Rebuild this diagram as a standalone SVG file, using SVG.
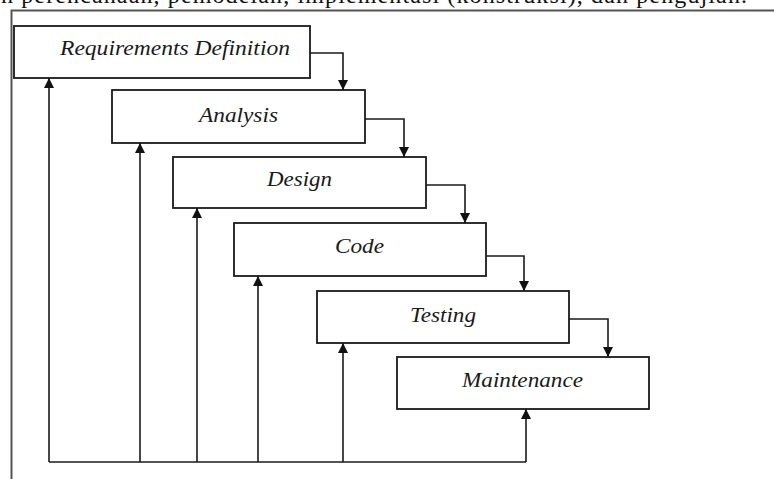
<svg xmlns="http://www.w3.org/2000/svg" width="774" height="479" viewBox="0 0 774 479">
<style>
.box{fill:#fff;stroke:#1a1a1a;stroke-width:1.8}
.lbl{font-family:"Liberation Serif","DejaVu Serif","Times New Roman",serif;font-style:italic;font-size:20px;fill:#1a1a1a}
.con{fill:none;stroke:#1a1a1a;stroke-width:1.6}
.frame{fill:none;stroke:#555;stroke-width:2}
.top{font-family:"Liberation Serif","Times New Roman",serif;font-size:24px;fill:#111}
</style>
<defs>
<marker id="ah" viewBox="0 0 10 10" refX="10" refY="5" markerWidth="12" markerHeight="10" markerUnits="userSpaceOnUse" orient="auto">
<path d="M0,0 L10,5 L0,10 z" fill="#111"/>
</marker>
</defs>
<rect width="774" height="479" fill="#fff"/>
<text class="top" x="1" y="2.5" textLength="746" lengthAdjust="spacing">n perencanaan, pemodelan, implementasi (konstruksi), dan pengujian.</text>
<path class="frame" d="M11.5,479 V10.5 H774"/>
<g id="requirements">
<rect class="box" x="14" y="26" width="296" height="52"/>
<text class="lbl" x="60" y="55" textLength="230" lengthAdjust="spacingAndGlyphs">Requirements Definition</text>
</g>
<g id="analysis">
<rect class="box" x="112" y="90" width="253" height="53"/>
<text class="lbl" x="199" y="122" textLength="79" lengthAdjust="spacingAndGlyphs">Analysis</text>
</g>
<g id="design">
<rect class="box" x="173" y="157" width="253" height="51"/>
<text class="lbl" x="267" y="186" textLength="65" lengthAdjust="spacingAndGlyphs">Design</text>
</g>
<g id="code">
<rect class="box" x="234" y="223" width="252" height="53"/>
<text class="lbl" x="335" y="253" textLength="49" lengthAdjust="spacingAndGlyphs">Code</text>
</g>
<g id="testing">
<rect class="box" x="317" y="291" width="252" height="52"/>
<text class="lbl" x="410" y="322" textLength="66" lengthAdjust="spacingAndGlyphs">Testing</text>
</g>
<g id="maintenance">
<rect class="box" x="397" y="357" width="252" height="52"/>
<text class="lbl" x="462" y="387" textLength="121" lengthAdjust="spacingAndGlyphs">Maintenance</text>
</g>
<g id="connectors">
<path class="con" d="M310,53 H343 V90" marker-end="url(#ah)"/>
<path class="con" d="M365,119 H404 V157" marker-end="url(#ah)"/>
<path class="con" d="M426,185 H465 V223" marker-end="url(#ah)"/>
<path class="con" d="M486,256 H524 V291" marker-end="url(#ah)"/>
<path class="con" d="M569,319 H608 V357" marker-end="url(#ah)"/>
<path class="con" d="M49,462 H526"/>
<path class="con" d="M49,462 V78" marker-end="url(#ah)"/>
<path class="con" d="M140,462 V143" marker-end="url(#ah)"/>
<path class="con" d="M197,462 V208" marker-end="url(#ah)"/>
<path class="con" d="M258,462 V276" marker-end="url(#ah)"/>
<path class="con" d="M343,462 V343" marker-end="url(#ah)"/>
<path class="con" d="M526,462 V409" marker-end="url(#ah)"/>
</g>
</svg>
